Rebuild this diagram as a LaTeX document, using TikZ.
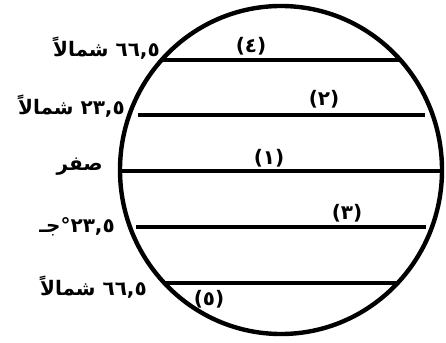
\documentclass[tikz,border=0pt]{standalone}
\usepackage{fontspec}
\newfontfamily\arabicfont[Script=Arabic]{DejaVu Sans}
\TeXXeTstate=1
\usepackage{tikz}

\begin{document}
\begin{tikzpicture}[
  x=1pt, y=-1pt,
  earth/.style={line width=4.4pt},
  parallel/.style={line width=3.4pt},
  latlabel/.style={anchor=east, inner sep=0pt, font=\arabicfont\bfseries\fontsize{20}{22}\selectfont},
  numlabel/.style={inner sep=0pt, font=\arabicfont\bfseries\fontsize{20}{22}\selectfont}
]
\useasboundingbox (0,0) rectangle (446,342);
% globe
\draw[earth] (281,170) ellipse (161 and 164);

% circles of latitude
\coordinate (w4) at (162,60);  \coordinate (e4) at (401,60);
\coordinate (w2) at (138,115); \coordinate (e2) at (425,115);
\coordinate (w1) at (120,171); \coordinate (e1) at (442,171);
\coordinate (w3) at (136,227); \coordinate (e3) at (426,227);
\coordinate (w5) at (164,283); \coordinate (e5) at (399,283);
\draw[parallel] (w4) -- (e4);
\draw[parallel] (w2) -- (e2);
\draw[parallel] (w1) -- (e1);
\draw[parallel] (w3) -- (e3);
\draw[parallel] (w5) -- (e5);

% numbers on the lines
\node[numlabel] (n4) at (251,46) {\beginR(٤)\endR};
\node[numlabel] (n2) at (324,99) {\beginR(٢)\endR};
\node[numlabel] (n1) at (269,158) {\beginR(١)\endR};
\node[numlabel] (n3) at (347,213) {\beginR(٣)\endR};
\node[numlabel] (n5) at (209,299) {\beginR(٥)\endR};

% degrees on the left
\node[latlabel] (lat4) at (160,48) {\beginR\beginL ٦٦,٥\endL{} شمالاً\endR};
\node[latlabel] (lat2) at (125,106) {\beginR\beginL ٢٣,٥\endL{} شمالاً\endR};
\node[latlabel] (lat1) at (103,167) {\beginR صفر\endR};
\node[latlabel] (lat3) at (115,227) {\beginR\beginL ٢٣,٥\endL{}°جـ\endR};
\node[latlabel] (lat5) at (147,287) {\beginR\beginL ٦٦,٥\endL{} شمالاً\endR};
\end{tikzpicture}
\end{document}
